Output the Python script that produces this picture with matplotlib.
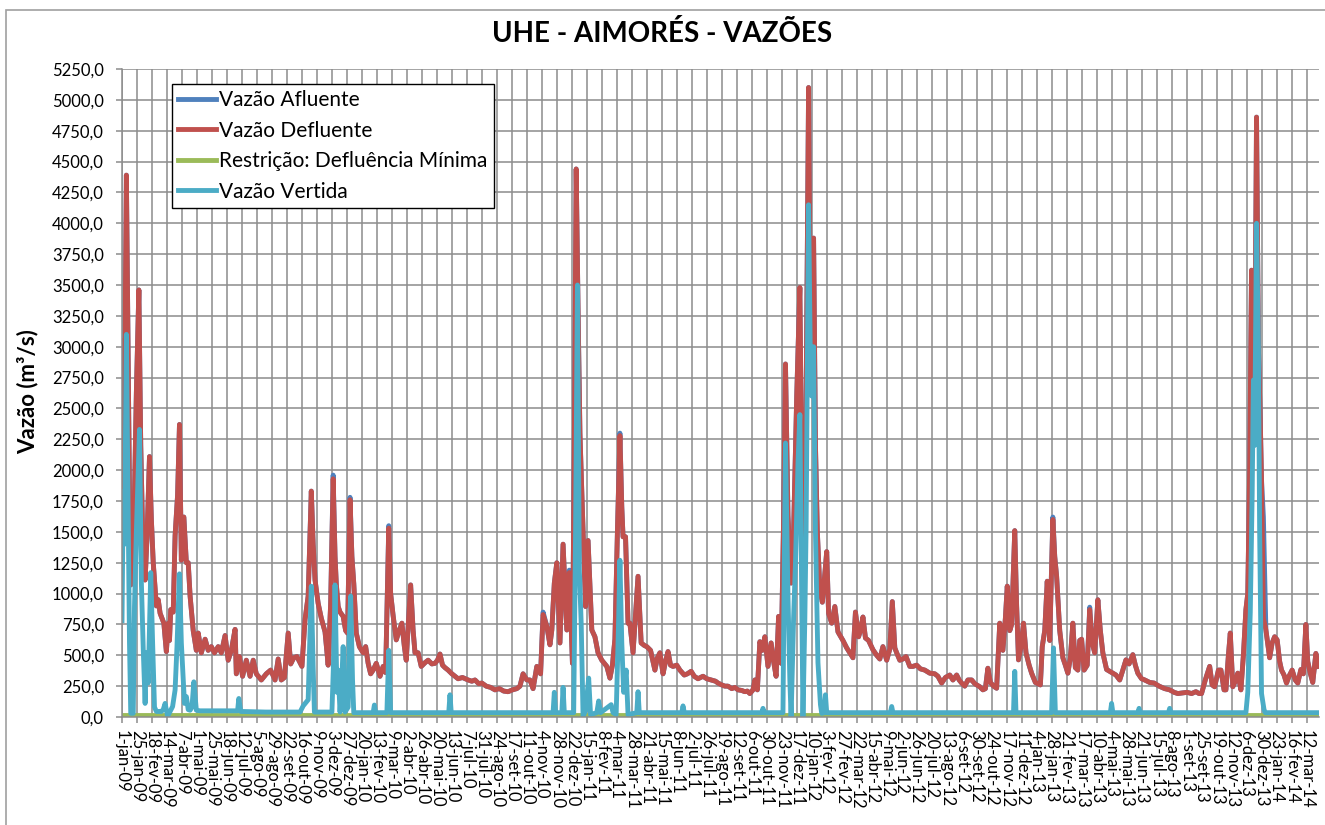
import numpy as np
import pandas as pd
import matplotlib
matplotlib.use("Agg")
import matplotlib.pyplot as plt
from matplotlib.patches import Rectangle

plt.rcParams['font.family'] = ['Lato', 'DejaVu Sans']

# dias contados a partir de 1-jan-09 (leitura aproximada do grafico)
inicio = pd.Timestamp("2009-01-01")
meses = ["jan", "fev", "mar", "abr", "mai", "jun", "jul", "ago", "set", "out", "nov", "dez"]

# Vazao Defluente (m3/s)
dias_def = [0, 1, 4, 7, 10, 12, 14, 17, 20, 23, 27, 30, 33, 37, 40, 44, 47, 50, 55, 58,
            61, 64, 67, 71, 74, 76, 78, 82, 85, 89, 92, 95, 99, 103, 106, 109, 114, 119, 122, 127,
            133, 138, 143, 148, 154, 159, 165, 170, 175, 181, 183, 188, 193, 199, 205, 210, 215, 223, 231, 238,
            245, 250, 255, 260, 266, 270, 275, 280, 285, 288, 293, 298, 303, 306, 309, 314, 319, 325, 330, 334,
            338, 341, 343, 346, 349, 354, 358, 361, 365, 368, 371, 375, 380, 386, 390, 394, 398, 402, 407, 413,
            418, 422, 427, 430, 434, 439, 443, 448, 452, 455, 458, 462, 466, 469, 474, 479, 485, 490, 496, 501,
            505, 509, 513, 517, 522, 528, 533, 538, 545, 554, 560, 565, 571, 576, 583, 590, 597, 604, 611, 618,
            625, 632, 637, 642, 648, 653, 658, 664, 670, 674, 680, 685, 688, 692, 696, 701, 706, 712, 716, 721,
            724, 727, 730, 733, 736, 742, 746, 752, 757, 762, 768, 776, 781, 785, 789, 793, 797, 800, 802, 806,
            810, 813, 818, 823, 826, 831, 836, 840, 846, 853, 857, 861, 866, 870, 874, 878, 882, 888, 893, 900,
            905, 911, 916, 922, 930, 936, 943, 950, 954, 960, 965, 970, 976, 981, 986, 992, 997, 1001, 1005, 1010,
            1013, 1017, 1021, 1025, 1029, 1034, 1039, 1043, 1047, 1051, 1055, 1059, 1062, 1066, 1071, 1075, 1080, 1085, 1088, 1091,
            1095, 1099, 1102, 1105, 1107, 1110, 1113, 1117, 1121, 1124, 1128, 1131, 1136, 1141, 1146, 1154, 1160, 1165, 1170, 1174,
            1179, 1182, 1186, 1190, 1195, 1202, 1208, 1213, 1218, 1224, 1229, 1233, 1237, 1240, 1245, 1250, 1255, 1261, 1266, 1272,
            1278, 1285, 1293, 1301, 1306, 1312, 1318, 1325, 1330, 1336, 1340, 1344, 1349, 1354, 1360, 1365, 1373, 1378, 1382, 1386,
            1390, 1395, 1400, 1405, 1410, 1414, 1417, 1421, 1424, 1429, 1432, 1435, 1439, 1443, 1447, 1452, 1456, 1462, 1466, 1470,
            1473, 1477, 1481, 1485, 1490, 1493, 1496, 1501, 1506, 1510, 1514, 1518, 1522, 1526, 1530, 1533, 1536, 1540, 1545, 1549,
            1553, 1557, 1562, 1566, 1570, 1576, 1581, 1586, 1591, 1597, 1602, 1607, 1612, 1618, 1622, 1626, 1632, 1637, 1645, 1652,
            1660, 1669, 1677, 1684, 1690, 1697, 1705, 1712, 1719, 1724, 1728, 1734, 1741, 1745, 1749, 1755, 1759, 1764, 1767, 1771,
            1774, 1778, 1783, 1786, 1791, 1795, 1799, 1802, 1805, 1808, 1811, 1813, 1816, 1819, 1822, 1824, 1827, 1831, 1837, 1841,
            1845, 1849, 1853, 1856, 1860, 1864, 1868, 1873, 1878, 1882, 1887, 1891, 1895, 1898, 1902, 1906, 1911, 1915]
vazao_def = [1800, 3050, 2500, 4390, 2800, 1800, 1070, 1200, 1800, 2630, 3460, 2200, 1500, 1110, 1450, 2110, 1600, 1250, 900, 950,
             840, 800, 760, 530, 760, 620, 870, 850, 1470, 1800, 2370, 1270, 1620, 1250, 1250, 980, 700, 540, 680, 520,
             630, 540, 570, 520, 570, 520, 660, 460, 540, 710, 350, 490, 330, 460, 330, 460, 350, 300, 350, 380,
             300, 470, 300, 320, 680, 430, 480, 490, 440, 410, 790, 980, 1830, 1400, 1110, 920, 800, 690, 420, 920,
             1930, 1300, 1080, 895, 850, 815, 700, 680, 1760, 1300, 1080, 680, 570, 520, 570, 435, 350, 380, 435, 330,
             410, 360, 1530, 1000, 820, 625, 690, 760, 570, 460, 730, 1070, 700, 520, 520, 410, 440, 460, 430, 435,
             460, 510, 420, 400, 380, 350, 330, 310, 320, 300, 290, 300, 270, 275, 250, 240, 220, 230, 210, 205,
             220, 230, 250, 350, 300, 300, 230, 410, 350, 830, 735, 585, 705, 1085, 1250, 600, 1400, 705, 1170, 435,
             2200, 4440, 3300, 2300, 1820, 895, 1430, 705, 650, 520, 460, 410, 315, 420, 630, 1500, 2280, 1700, 1460, 1460,
             760, 760, 520, 900, 1140, 600, 580, 570, 540, 380, 480, 520, 350, 450, 530, 420, 410, 420, 380, 340,
             350, 370, 330, 310, 330, 310, 300, 290, 275, 260, 250, 250, 230, 240, 220, 215, 205, 210, 190, 220,
             300, 220, 610, 540, 650, 410, 600, 450, 330, 815, 435, 1600, 2860, 1630, 1085, 1500, 2600, 3480, 2000, 1200,
             2500, 5100, 3000, 3500, 3880, 2200, 1500, 1040, 930, 1100, 1340, 840, 760, 895, 690, 620, 560, 520, 480, 850,
             650, 700, 810, 640, 620, 545, 500, 470, 570, 460, 550, 935, 560, 520, 460, 470, 490, 410, 410, 420,
             390, 380, 355, 350, 330, 275, 320, 340, 300, 340, 300, 275, 250, 300, 300, 270, 245, 220, 230, 395,
             280, 250, 233, 760, 540, 800, 1060, 700, 750, 1510, 900, 463, 570, 760, 520, 420, 355, 280, 270, 260,
             570, 700, 1100, 620, 1600, 1300, 1140, 700, 480, 420, 355, 480, 760, 400, 380, 620, 630, 380, 420, 870,
             600, 520, 950, 700, 520, 385, 370, 355, 340, 300, 380, 463, 430, 505, 420, 355, 310, 300, 280, 275,
             250, 230, 220, 200, 190, 195, 200, 190, 205, 190, 190, 300, 410, 260, 245, 380, 380, 220, 220, 500,
             680, 245, 300, 355, 220, 500, 870, 1000, 2000, 3620, 2700, 2500, 4860, 3000, 2400, 1920, 800, 705, 480, 600,
             650, 625, 450, 380, 340, 275, 330, 380, 300, 275, 385, 350, 750, 450, 355, 280, 515, 410]

# Vazao Afluente: coincide com a defluente, exceto nestes dias
afluente_dif = {338: 1960, 365: 1780, 427: 1550, 674: 850, 716: 1190, 797: 2300,
                1490: 1620, 1549: 890, 1827: 1620}

# Vazao Vertida (m3/s)
dias_vert = [0, 2, 4, 7, 10, 12, 14, 18, 20, 23, 26, 28, 31, 34, 37, 39, 42, 46, 49, 52,
             55, 63, 66, 69, 73, 77, 81, 85, 88, 92, 95, 98, 100, 103, 106, 109, 112, 115, 119, 125,
             185, 187, 190, 230, 285, 290, 298, 300, 303, 306, 308, 336, 339, 341, 344, 346, 349, 351, 354, 357,
             362, 364, 366, 369, 371, 402, 404, 406, 424, 427, 430, 523, 525, 527, 690, 692, 694, 704, 706, 708,
             723, 726, 729, 732, 735, 738, 742, 747, 750, 760, 763, 766, 783, 786, 791, 795, 797, 800, 803, 807,
             810, 824, 826, 828, 896, 898, 900, 1024, 1026, 1028, 1058, 1060, 1062, 1066, 1069, 1071, 1075, 1078, 1082, 1085,
             1088, 1090, 1093, 1095, 1099, 1102, 1104, 1107, 1110, 1114, 1118, 1120, 1124, 1126, 1128, 1230, 1232, 1234, 1427, 1429,
             1431, 1488, 1491, 1494, 1582, 1584, 1586, 1626, 1628, 1630, 1675, 1677, 1679, 1799, 1802, 1806, 1809, 1811, 1813, 1816,
             1819, 1821, 1824, 1828, 1830, 1915]
vazao_vert = [780, 1830, 1400, 3100, 1600, 600, 30, 30, 900, 1500, 2000, 2330, 1090, 550, 110, 520, 275, 1170, 600, 80,
              45, 45, 60, 110, 5, 45, 85, 220, 570, 1160, 600, 300, 110, 165, 60, 55, 80, 285, 55, 50,
              50, 150, 45, 40, 40, 90, 140, 500, 1060, 400, 40, 40, 500, 1070, 200, 380, 40, 200, 570, 40,
              80, 700, 980, 300, 35, 35, 97, 35, 35, 540, 35, 35, 180, 35, 35, 200, 35, 35, 240, 35,
              35, 1500, 3500, 1200, 760, 10, 50, 315, 20, 35, 130, 35, 100, 35, 20, 800, 1270, 600, 200, 380,
              20, 35, 205, 35, 35, 90, 35, 35, 70, 35, 35, 1200, 2220, 980, 300, 0, 800, 1250, 2050, 2450,
              1000, 0, 800, 1520, 4150, 2800, 2600, 3000, 1500, 440, 100, 30, 35, 180, 35, 35, 85, 35, 35, 370,
              35, 35, 560, 35, 35, 110, 35, 35, 70, 35, 35, 70, 35, 35, 200, 850, 1800, 2730, 2200, 4000,
              3000, 1500, 190, 60, 35, 35]

# Restricao: Defluencia Minima (m3/s)
dias_rest = [0, 1915]
vazao_rest = [15, 15]

y_ticks = np.arange(0, 5251, 250)

vazao_afl = [afluente_dif.get(d, v) for d, v in zip(dias_def, vazao_def)]

fig = plt.figure(figsize=(13.25, 8.25), dpi=100)
fig.patches.append(Rectangle((6 / 1325, -0.1), 1.2, 1.1 - 10 / 825, transform=fig.transFigure,
                             fill=False, edgecolor='#a0a0a0', lw=1.2))

ax = fig.add_axes([122 / 1325, 108 / 825, 1197 / 1325, 648 / 825])

lw = 3.5
ax.plot(dias_def, vazao_afl, color='#4F81BD', lw=lw, label='Vazão Afluente', solid_joinstyle='round')
ax.plot(dias_def, vazao_def, color='#C0504D', lw=lw, label='Vazão Defluente', solid_joinstyle='round')
ax.plot(dias_rest, vazao_rest, color='#9BBB59', lw=lw, label='Restrição: Defluência Mínima')
ax.plot(dias_vert, vazao_vert, color='#4BACC6', lw=lw, label='Vazão Vertida', solid_joinstyle='round')

ax.set_xlim(0, 1916)
ax.set_ylim(0, 5250)

x_ticks = np.arange(0, 1897, 24)
x_labels = []
for d in x_ticks:
    dt = inicio + pd.Timedelta(days=int(d))
    x_labels.append(f"{dt.day}-{meses[dt.month - 1]}-{dt.year % 100:02d}")
ax.set_xticks(x_ticks)
ax.set_xticklabels(x_labels, rotation=-90, ha='center', va='top', fontsize=12)
ax.set_yticks(y_ticks)
ax.set_yticklabels([f"{v:.1f}".replace('.', ',') for v in y_ticks], fontsize=12)

ax.grid(True, color='#8c8c8c', lw=1.1)
ax.set_axisbelow(True)
for s in ['top', 'right']:
    ax.spines[s].set_visible(False)
for s in ['left', 'bottom']:
    ax.spines[s].set_color('#8c8c8c')
    ax.spines[s].set_linewidth(1.1)
ax.tick_params(axis='both', direction='out', length=4, color='#8c8c8c', width=1.1)
ax.tick_params(axis='y', pad=9)
ax.tick_params(axis='x', pad=5)

fig.text(0.5, 1 - 34 / 825, 'UHE - AIMORÉS - VAZÕES', ha='center', va='center',
         fontsize=20, fontweight='bold')
fig.text(28 / 1325, 1 - 392 / 825, 'Vazão (m³/s)', ha='center', va='center', rotation=90,
         fontsize=16, fontweight='bold')

leg = ax.legend(loc='upper left', bbox_to_anchor=(172 / 1325, 1 - 84 / 825), bbox_transform=fig.transFigure,
                fontsize=15, frameon=True, fancybox=False, edgecolor='black', borderaxespad=0,
                handlelength=1.8, handletextpad=0.15, labelspacing=0.5, borderpad=0.3)
leg.get_frame().set_linewidth(1.0)
leg.get_frame().set_alpha(1)

fig.savefig('out.png', dpi=100)
